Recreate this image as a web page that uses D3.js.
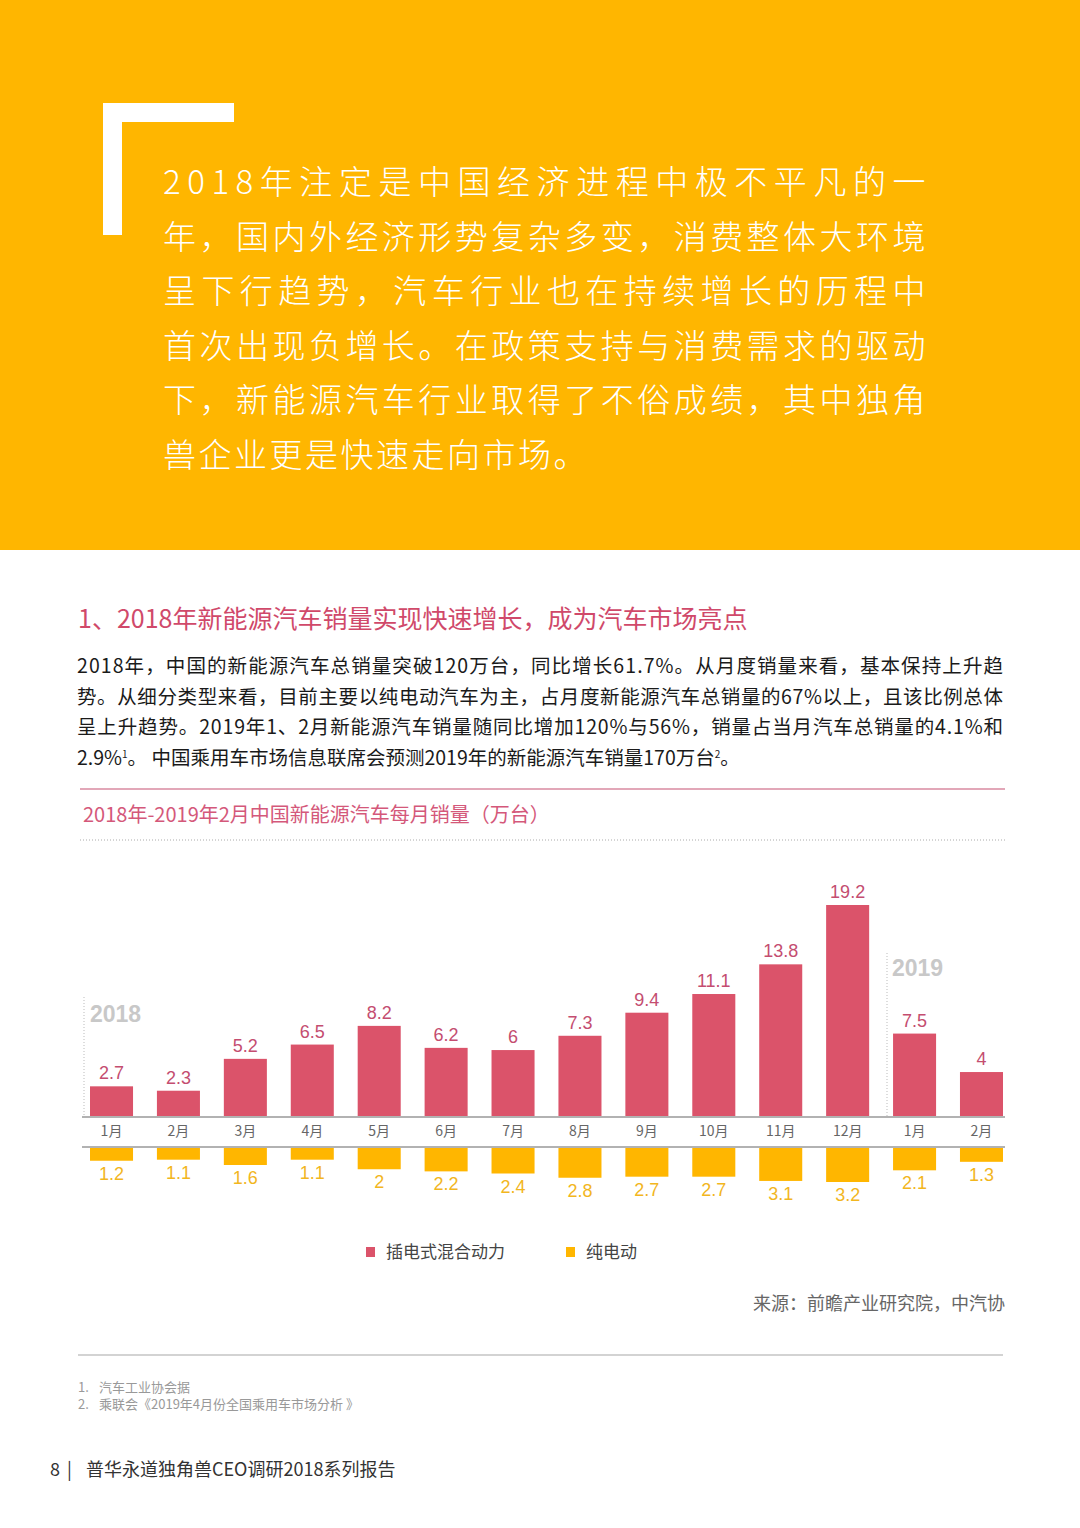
<!DOCTYPE html>
<html>
<head>
<meta charset="utf-8">
<script src="https://cdn.jsdelivr.net/npm/d3@7"></script>
<style>
  body { margin: 0; background: #fff; }
  svg { display: block; }
  text { font-family: "Noto Sans CJK SC", "Noto Sans", sans-serif; }
</style>
</head>
<body>
<div id="chart"></div>
<script>
// 数据
const months = ["1月", "2月", "3月", "4月", "5月", "6月", "7月", "8月", "9月", "10月", "11月", "12月", "1月", "2月"];
const years = ["2018", "2019"];
const phev = [2.7, 2.3, 5.2, 6.5, 8.2, 6.2, 6, 7.3, 9.4, 11.1, 13.8, 19.2, 7.5, 4];
const bev = [1.2, 1.1, 1.6, 1.1, 2, 2.2, 2.4, 2.8, 2.7, 2.7, 3.1, 3.2, 2.1, 1.3];
const seriesNames = ["插电式混合动力", "纯电动"];

const quoteLines = [
    "2018年注定是中国经济进程中极不平凡的一",
    "年，国内外经济形势复杂多变，消费整体大环境",
    "呈下行趋势，汽车行业也在持续增长的历程中",
    "首次出现负增长。在政策支持与消费需求的驱动",
    "下，新能源汽车行业取得了不俗成绩，其中独角",
    "兽企业更是快速走向市场。"
];
const paraLines = [
    "2018年，中国的新能源汽车总销量突破120万台，同比增长61.7%。从月度销量来看，基本保持上升趋",
    "势。从细分类型来看，目前主要以纯电动汽车为主，占月度新能源汽车总销量的67%以上，且该比例总体",
    "呈上升趋势。2019年1、2月新能源汽车销量随同比增加120%与56%，销量占当月汽车总销量的4.1%和"
];

const pink = "#db536a";
const yellow = "#ffb600";

const svg = d3.select("#chart")
    .append("svg")
    .attr("width", 1080)
    .attr("height", 1528);

// 顶部橙色区域
svg.append("rect").attr("x", 0).attr("y", 0).attr("width", 1080).attr("height", 550).attr("fill", "#ffb600");
svg.append("rect").attr("x", 103).attr("y", 103).attr("width", 19).attr("height", 132).attr("fill", "#fff");
svg.append("rect").attr("x", 103).attr("y", 103).attr("width", 131).attr("height", 19).attr("fill", "#fff");

svg.selectAll(".quote")
    .data(quoteLines)
    .enter()
    .append("text")
    .attr("class", "quote")
    .attr("x", 163)
    .attr("y", (d, i) => 194 + i * 54.6)
    .attr("fill", "#fff")
    .style("font-size", "33px")
    .style("font-weight", 300)
    .style("letter-spacing", "2.5px")
    .each(function(d, i) {
        if (i < quoteLines.length - 1) {
            d3.select(this).attr("textLength", 765).attr("lengthAdjust", "spacing");
        }
    })
    .text(d => d);

// 标题和正文
svg.append("text")
    .attr("x", 78).attr("y", 628)
    .attr("fill", "#d0496a")
    .style("font-size", "25px")
    .text("1、2018年新能源汽车销量实现快速增长，成为汽车市场亮点");

svg.selectAll(".para")
    .data(paraLines)
    .enter()
    .append("text")
    .attr("class", "para")
    .attr("x", 77)
    .attr("y", (d, i) => 673 + i * 30.7)
    .attr("fill", "#1a1a1a")
    .style("font-size", "19.5px")
    .attr("textLength", 926)
    .attr("lengthAdjust", "spacing")
    .text(d => d);

const lastLine = svg.append("text")
    .attr("x", 77).attr("y", 765)
    .attr("fill", "#1a1a1a")
    .style("font-size", "19.5px");
lastLine.append("tspan").text("2.9%");
lastLine.append("tspan").attr("dy", -7).style("font-size", "10px").text("1");
lastLine.append("tspan").attr("dy", 7).text("。 中国乘用车市场信息联席会预测2019年的新能源汽车销量170万台");
lastLine.append("tspan").attr("dy", -7).style("font-size", "10px").text("2");
lastLine.append("tspan").attr("dy", 7).text("。");

svg.append("line")
    .attr("x1", 80).attr("x2", 1005).attr("y1", 789).attr("y2", 789)
    .attr("stroke", "#d98aa0").attr("stroke-width", 1.5);

svg.append("text")
    .attr("x", 83).attr("y", 822)
    .attr("fill", "#d4587a")
    .style("font-size", "20px")
    .text("2018年-2019年2月中国新能源汽车每月销量（万台）");

svg.append("line")
    .attr("x1", 80).attr("x2", 1005).attr("y1", 840).attr("y2", 840)
    .attr("stroke", "#aaa").attr("stroke-width", 1)
    .attr("stroke-dasharray", "1,2");

// 图表
const axisTop = 1117;
const axisBottom = 1147;

const xScale = d3.scaleBand()
    .domain(d3.range(months.length))
    .range([90, 1003])
    .paddingInner(0.357)
    .paddingOuter(0);

const yTop = d3.scaleLinear()
    .domain([0, 19.2])
    .range([axisTop - 1, 905]);

const yBottom = d3.scaleLinear()
    .domain([0, 3.2])
    .range([axisBottom + 1, axisBottom + 35]);

// 年份分隔
const yearMarks = [
    { label: years[0], x: 84, y1: 997, tx: 90, ty: 1022 },
    { label: years[1], x: 887, y1: 953, tx: 892, ty: 976 }
];
svg.selectAll(".year-line")
    .data(yearMarks)
    .enter()
    .append("line")
    .attr("x1", d => d.x).attr("x2", d => d.x)
    .attr("y1", d => d.y1).attr("y2", axisTop)
    .attr("stroke", "#bbb").attr("stroke-dasharray", "1,2");
svg.selectAll(".year-label")
    .data(yearMarks)
    .enter()
    .append("text")
    .attr("x", d => d.tx).attr("y", d => d.ty)
    .attr("fill", "#c8c8c8")
    .style("font-size", "23px")
    .style("font-weight", "bold")
    .style("font-family", "'Liberation Sans', Arial, sans-serif")
    .text(d => d.label);

svg.selectAll(".bar-top")
    .data(phev)
    .enter()
    .append("rect")
    .attr("x", (d, i) => xScale(i))
    .attr("y", d => yTop(d))
    .attr("width", xScale.bandwidth())
    .attr("height", d => yTop(0) - yTop(d))
    .attr("fill", pink);

svg.selectAll(".lab-top")
    .data(phev)
    .enter()
    .append("text")
    .attr("x", (d, i) => xScale(i) + xScale.bandwidth() / 2)
    .attr("y", d => yTop(d) - 7)
    .attr("text-anchor", "middle")
    .attr("fill", "#c44d70")
    .style("font-size", "18px")
    .style("font-family", "'Liberation Sans', Arial, sans-serif")
    .text(d => d);

svg.selectAll(".bar-bottom")
    .data(bev)
    .enter()
    .append("rect")
    .attr("x", (d, i) => xScale(i))
    .attr("y", yBottom(0))
    .attr("width", xScale.bandwidth())
    .attr("height", d => yBottom(d) - yBottom(0))
    .attr("fill", yellow);

svg.selectAll(".lab-bottom")
    .data(bev)
    .enter()
    .append("text")
    .attr("x", (d, i) => xScale(i) + xScale.bandwidth() / 2)
    .attr("y", d => yBottom(d) + 19)
    .attr("text-anchor", "middle")
    .attr("fill", "#f2b61e")
    .style("font-size", "18px")
    .style("font-family", "'Liberation Sans', Arial, sans-serif")
    .text(d => d);

// 两条轴线
svg.selectAll(".axis-line")
    .data([axisTop, axisBottom])
    .enter()
    .append("line")
    .attr("x1", 82).attr("x2", 1005)
    .attr("y1", d => d).attr("y2", d => d)
    .attr("stroke", "#999").attr("stroke-width", 1.5);

// 月份标签
const xAxis = svg.append("g")
    .attr("transform", `translate(0,${axisTop})`)
    .call(d3.axisBottom(xScale).tickSize(0).tickFormat(i => months[i]));
xAxis.select(".domain").remove();
xAxis.selectAll("text")
    .attr("y", 19)
    .attr("dy", 0)
    .attr("fill", "#666")
    .style("font-size", "14px")
    .style("font-family", "'Noto Sans CJK SC', sans-serif");

// 图例
const legend = svg.selectAll(".legend")
    .data(seriesNames)
    .enter()
    .append("g")
    .attr("transform", (d, i) => `translate(${366 + i * 200},1247)`);
legend.append("rect")
    .attr("width", 9).attr("height", 10)
    .attr("fill", (d, i) => i === 0 ? pink : yellow);
legend.append("text")
    .attr("x", 20).attr("y", 11)
    .attr("fill", "#444")
    .style("font-size", "17px")
    .text(d => d);

svg.append("text")
    .attr("x", 1005).attr("y", 1310)
    .attr("text-anchor", "end")
    .attr("fill", "#666")
    .style("font-size", "18px")
    .text("来源：前瞻产业研究院，中汽协");

svg.append("line")
    .attr("x1", 78).attr("x2", 1003).attr("y1", 1355).attr("y2", 1355)
    .attr("stroke", "#c4c4c4").attr("stroke-width", 1.5);

const noteNums = ["1.", "2."];
const notes = ["汽车工业协会据", "乘联会《2019年4月份全国乘用车市场分析 》"];
svg.selectAll(".note-num")
    .data(noteNums)
    .enter()
    .append("text")
    .attr("x", 78)
    .attr("y", (d, i) => 1392 + i * 17)
    .attr("fill", "#999")
    .style("font-size", "13px")
    .text(d => d);
svg.selectAll(".note")
    .data(notes)
    .enter()
    .append("text")
    .attr("x", 99)
    .attr("y", (d, i) => 1392 + i * 17)
    .attr("fill", "#999")
    .style("font-size", "13px")
    .text(d => d);

const footer = svg.append("g").attr("fill", "#333").style("font-size", "18px");
footer.append("text").attr("x", 50).attr("y", 1476).text("8");
footer.append("text").attr("x", 67).attr("y", 1476).text("|");
footer.append("text").attr("x", 86).attr("y", 1476).text("普华永道独角兽CEO调研2018系列报告");
</script>
</body>
</html>
